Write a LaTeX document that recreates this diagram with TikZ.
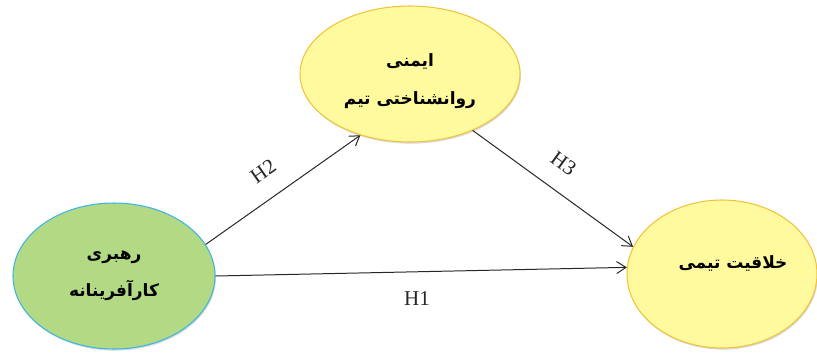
\documentclass[tikz,border=0pt]{standalone}
\usepackage{fontspec}
\newfontfamily\arabicfont[Script=Arabic]{DejaVu Sans}
\newfontfamily\hfont{Liberation Serif}
\TeXXeTstate=1
\usetikzlibrary{arrows.meta,shapes.geometric,shadows}
\definecolor{leadgreen}{RGB}{178,218,132}
\definecolor{leadblue}{RGB}{62,180,228}
\definecolor{paleyellow}{RGB}{255,250,158}
\definecolor{goldline}{RGB}{242,194,60}
\tikzset{
oval/.style={ellipse,draw=goldline,fill=paleyellow,line width=.9pt,drop shadow={opacity=.3,shadow xshift=.8pt,shadow yshift=-1.4pt}},
greenoval/.style={oval,draw=leadblue,fill=leadgreen},
fatext/.style={align=center,font=\arabicfont\bfseries\fontsize{14.5}{32}\selectfont},
arrow/.style={-{Straight Barb[length=2.8mm,width=3.6mm]},line width=.85pt,draw=black!85},
hlabel/.style={font=\hfont\fontsize{18}{20}\selectfont,text=black!85}
}
\begin{document}
\begin{tikzpicture}[x=.03cm,y=-.03cm]
\useasboundingbox (0,0) rectangle (817,352);
% constructs
\node[greenoval,minimum width=6.06cm,minimum height=4.38cm] (lead) at (114,276) {};
\node[oval,minimum width=6.6cm,minimum height=4.08cm] (safety) at (410,74) {};
\node[oval,minimum width=5.7cm,minimum height=4.44cm] (creat) at (722,274) {};
\node[fatext] (leadT) at (114,276) {\beginR رهبری\endR\\\beginR کارآفرینانه\endR};
\node[fatext] (safetyT) at (410,81) {\beginR ایمنی\endR\\\beginR روانشناختی تیم\endR};
\node[fatext] (creatT) at (733,263) {\beginR خلاقیت تیمی\endR};
% hypotheses
\draw[arrow] (lead.19.5) -- node[hlabel,sloped,pos=.47,above=.45cm] (h2) {H2} (safety.231);
\draw[arrow] (safety.318) -- node[hlabel,sloped,pos=.47,above=.45cm] (h3) {H3} (creat.163);
\draw[arrow] (lead.0) -- node[hlabel,pos=.49,below=.45cm] (h1) {H1} (creat.176);
\end{tikzpicture}
\end{document}
